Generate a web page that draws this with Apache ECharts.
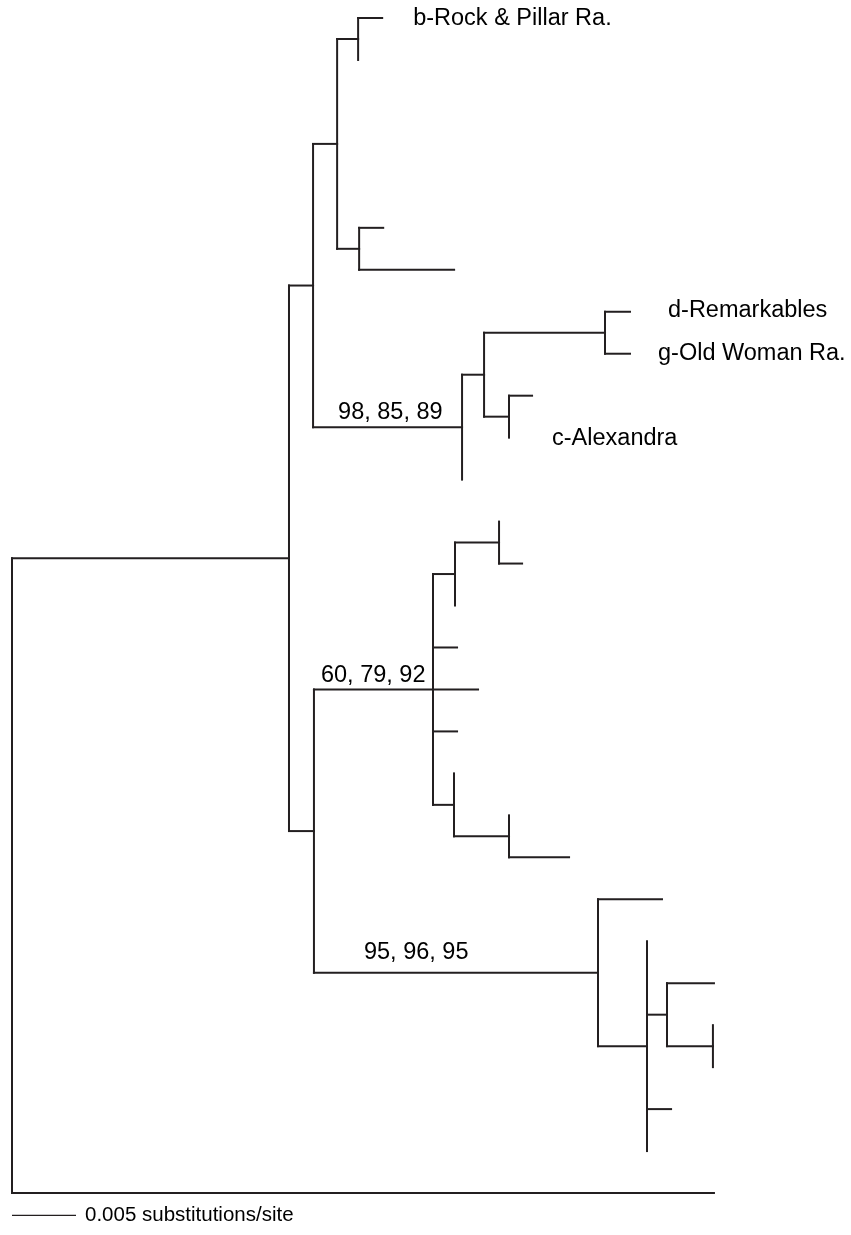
<!DOCTYPE html>
<html>
<head>
<meta charset="utf-8">
<script src="https://cdn.jsdelivr.net/npm/echarts@6/dist/echarts.min.js"></script>
<style>
html,body{margin:0;padding:0;background:#fff;}
#chart{width:851px;height:1235px;}
</style>
</head>
<body>
<div id="chart"></div>
<script>
// ---- Tree data (preorder; children appear in drawing order) ----
const nodeParent = [-1,0,1,2,3,4,4,3,3,3,3,10,10,2,13,14,15,15,14,18,18,13,1,22,23,24,25,25,24,23,23,23,23,32,32,34,34,22,37,37,39,39,41,41,43,43,39,39,0];
// branch lengths in substitutions/site
const branchLength = [0,0.02164,0.00188,0.00188,0.00164,0.00188,0,0,0,0,0.00172,0.00188,0.00742,0.01164,0.00172,0.00945,0.00195,0.00195,0.00195,0.00180,0,0,0.00195,0.00930,0.00172,0.00344,0,0.00180,0,0.00188,0.00352,0.00188,0.00164,0,0.00430,0,0.00469,0.02219,0.00500,0.00383,0,0.00156,0.00367,0.00359,0,0,0.00188,0,0.05484];
// labelled leaves
const leafNodes = [5,16,17,20];
const leafNames = ['b-Rock & Pillar Ra.','d-Remarkables','g-Old Woman Ra.','c-Alexandra'];
// bootstrap support labels (on branch leading to node)
const supportNodes = [13,23,37];
const supportText = ['98, 85, 89','60, 79, 92','95, 96, 95'];
// scale bar
const scaleBarLength = 0.005;
const scaleBarText = '0.005 substitutions/site';

// ---- Layout config (pixels) ----
const leafLabelDx = [31,38,28,43];
const leafLabelDy = [1,-1,0,1];
const supportDx = [25,7,50];
const supportDy = [-15,-14,-20];

// ---- Compute tree layout ----
const n = nodeParent.length;
const children = Array.from({length:n},()=>[]);
for (let i=1;i<n;i++) children[nodeParent[i]].push(i);
const xPos = new Array(n).fill(0);
for (let i=1;i<n;i++) xPos[i] = xPos[nodeParent[i]] + branchLength[i];
const yPos = new Array(n).fill(0);
let row = 0;
function layoutY(i){
  if (children[i].length===0){ yPos[i]=row++; return; }
  children[i].forEach(layoutY);
  const c = children[i];
  yPos[i] = (yPos[c[0]] + yPos[c[c.length-1]])/2;
}
layoutY(0);
const nRows = row;

const segments = [];
for (let i=1;i<n;i++){
  if (branchLength[i]>0) segments.push([xPos[nodeParent[i]], yPos[i], xPos[i], yPos[i]]);
}
for (let i=0;i<n;i++){
  const c = children[i];
  if (c.length) segments.push([xPos[i], yPos[c[0]], xPos[i], yPos[c[c.length-1]]]);
}
const scaleRow = nRows - 1 + 0.53;
const scaleSeg = [[0, scaleRow, scaleBarLength, scaleRow]];

const FONT = '"Liberation Sans", Arial, Helvetica, sans-serif';
const LINE = '#231f20';

function segRender(params, api){
  const p1 = api.coord([api.value(0), api.value(1)]);
  const p2 = api.coord([api.value(2), api.value(3)]);
  return {type:'line', shape:{x1:p1[0],y1:p1[1],x2:p2[0],y2:p2[1]},
    style:{stroke:LINE, lineWidth:2, lineCap:'square'}};
}

const chart = echarts.init(document.getElementById('chart'), null, {renderer:'canvas'});
chart.setOption({
  animation:false,
  grid:{left:12, right:7, top:18, bottom:0},
  xAxis:{type:'value', min:0, max:0.065, show:false},
  yAxis:{type:'value', min:0, max:nRows, inverse:true, show:false},
  series:[
    {type:'custom', clip:false, data:segments, encode:{x:[0,2], y:[1,3]}, renderItem:segRender},
    {type:'custom', clip:false, data:scaleSeg, encode:{x:[0,2], y:[1,3]},
      renderItem:function(params, api){
        const el = segRender(params, api);
        el.style.lineWidth = 1.2; el.style.lineCap='butt';
        return el;
      }},
    {type:'custom', clip:false, data:[[scaleBarLength, scaleRow]],
      renderItem:function(params, api){
        const p = api.coord([api.value(0), api.value(1)]);
        return {type:'text', x:p[0]+9, y:p[1],
          style:{text:scaleBarText, fontFamily:FONT, fontSize:20.5, fill:'#000', align:'left', verticalAlign:'middle'}};
      }},
    {type:'custom', clip:false, data:leafNodes.map(i=>[xPos[i], yPos[i]]),
      renderItem:function(params, api){
        const k = params.dataIndex;
        const p = api.coord([api.value(0), api.value(1)]);
        return {type:'text', x:p[0]+leafLabelDx[k], y:p[1]+leafLabelDy[k],
          style:{text:leafNames[k], fontFamily:FONT, fontSize:23.5, fill:'#000', align:'left', verticalAlign:'middle'}};
      }},
    {type:'custom', clip:false, data:supportNodes.map(i=>[xPos[nodeParent[i]], yPos[i]]),
      renderItem:function(params, api){
        const k = params.dataIndex;
        const p = api.coord([api.value(0), api.value(1)]);
        return {type:'text', x:p[0]+supportDx[k], y:p[1]+supportDy[k],
          style:{text:supportText[k], fontFamily:FONT, fontSize:23.5, fill:'#000', align:'left', verticalAlign:'middle'}};
      }}
  ]
});
</script>
</body>
</html>
